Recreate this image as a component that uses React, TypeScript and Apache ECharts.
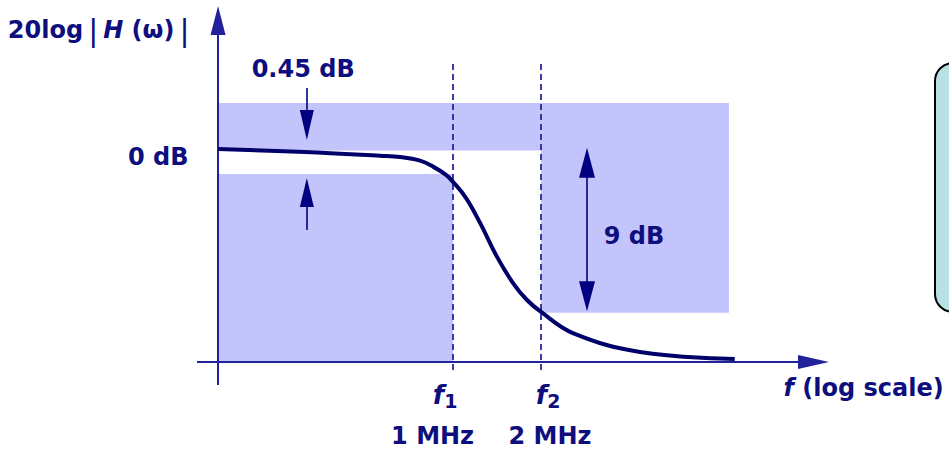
import React, { useEffect, useRef } from "react";
import * as echarts from "echarts";

// Frequency response curve (frequency in MHz on a log axis, gain in dB)
const freqMHz = [0.157, 0.312, 0.563, 0.659, 0.771, 0.854, 0.946, 1.0, 1.108, 1.237, 1.414, 1.604, 1.79, 2.0, 2.57, 4.36, 9.2];
const gainDb = [0.08, -0.09, -0.3, -0.37, -0.57, -0.9, -1.36, -1.75, -2.64, -4.02, -5.9, -7.35, -8.29, -8.95, -10.12, -11.17, -11.56];

// Specification mask (shaded forbidden regions)
const maskStartMHz = 0.157;
const maskEndMHz = 8.79;
const maskTopDb = 2.63;
const passCeilingDb = 0;
const passFloorDb = -1.31;
const stopCeilingDb = -9;
const axisDb = -11.72;

// Corner frequencies
const cornerMHz = [1, 2];
const cornerNames = ["f1", "f2"];
const cornerLabels = ["1 MHz", "2 MHz"];

// Axis extent
const xMinMHz = 0.133;
const xMaxMHz = 19.18;
const yMinDb = -13;
const yMaxDb = 8;

const NAVY = "#0e0e7e";
const CURVE = "#00006a";
const AXIS = "#22229a";
const MASK = "#c4c4fc";

export default function App() {
  const ref = useRef<HTMLDivElement>(null);
  useEffect(() => {
    if (!ref.current) return;
    const chart = echarts.init(ref.current, undefined, { renderer: "svg" });

    const big = {
      fontFamily: "DejaVu Sans",
      fontWeight: "bold",
      fontSize: 24,
      color: NAVY,
      textBorderWidth: 0,
      textShadowBlur: 0,
    };
    const rich = {
      n: { ...big },
      it: { ...big, fontStyle: "italic" },
      fi: { ...big, fontStyle: "italic", fontSize: 26 },
      sub: { ...big, fontSize: 19, padding: [12, 0, 0, 0] },
      bar: {
        fontFamily: "Liberation Sans",
        fontWeight: "normal",
        fontSize: 31,
        color: NAVY,
        textBorderWidth: 0,
        padding: [0, 6, 0, 6],
      },
    };

    const notes = [
      { x: 0.0625, y: 6.67, text: "{n|20log}{bar||}{it|H}{n| (ω)}{bar||}" },
      { x: 0.098, y: -0.37, text: "{n|0 dB}" },
      { x: 0.307, y: 4.51, text: "{n|0.45 dB}" },
      { x: 4.16, y: -4.74, text: "{n|9 dB}" },
      { x: 0.939, y: -13.55, text: `{fi|${cornerNames[0][0]}}{sub|${cornerNames[0].slice(1)}}` },
      { x: 2.114, y: -13.55, text: `{fi|${cornerNames[1][0]}}{sub|${cornerNames[1].slice(1)}}` },
      { x: 0.851, y: -15.82, text: `{n|${cornerLabels[0]}}` },
      { x: 2.146, y: -15.82, text: `{n|${cornerLabels[1]}}` },
      { x: 25.4, y: -13.16, text: "{it|f}{n| (log scale)}" },
    ];

    const option: any = {
      animation: false,
      textStyle: { fontFamily: "DejaVu Sans" },
      grid: { left: 197, right: 121, top: 6, bottom: 65 },
      xAxis: { type: "log", logBase: 2, min: xMinMHz, max: xMaxMHz, show: false },
      yAxis: { type: "value", min: yMinDb, max: yMaxDb, show: false },
      graphic: [
        {
          type: "rect",
          shape: { x: 935, y: 63, width: 60, height: 249, r: 18 },
          style: { fill: "#b9e1e3", stroke: "#000", lineWidth: 2 },
          z: 1,
        },
      ],
      series: [
        {
          type: "line",
          z: 1,
          clip: false,
          showSymbol: false,
          data: [[maskStartMHz, passCeilingDb]],
          markArea: {
            silent: true,
            itemStyle: { color: MASK, opacity: 1, borderWidth: 0 },
            data: [
              [{ coord: [maskStartMHz, maskTopDb] }, { coord: [cornerMHz[1], passCeilingDb] }],
              [{ coord: [cornerMHz[1], maskTopDb] }, { coord: [maskEndMHz, stopCeilingDb] }],
              [{ coord: [maskStartMHz, passFloorDb] }, { coord: [cornerMHz[0], axisDb] }],
            ],
          },
        },
        {
          type: "line",
          z: 2,
          clip: false,
          showSymbol: false,
          data: [[maskStartMHz, passCeilingDb]],
          markLine: {
            silent: true,
            symbol: ["none", "none"],
            label: { show: false },
            lineStyle: { color: "#28289c", width: 1.8, type: [6, 4] },
            data: cornerMHz.map((f) => [{ coord: [f, -12.17] }, { coord: [f, 4.79] }]),
          },
        },
        {
          type: "line",
          z: 3,
          clip: false,
          showSymbol: false,
          data: [[maskStartMHz, passCeilingDb]],
          markLine: {
            silent: true,
            symbol: ["none", "triangle"],
            label: { show: false },
            lineStyle: { color: AXIS, width: 2, type: "solid" },
            data: [
              [
                { coord: [maskStartMHz, yMinDb], symbol: "none" },
                { coord: [maskStartMHz, 7.2], symbol: "triangle", symbolSize: [15, 29] },
              ],
              [
                { coord: [xMinMHz, axisDb], symbol: "none" },
                { coord: [17.11, axisDb], symbol: "triangle", symbolSize: [14, 31] },
              ],
            ],
          },
        },
        {
          type: "line",
          z: 4,
          clip: false,
          showSymbol: false,
          data: [[maskStartMHz, passCeilingDb]],
          markLine: {
            silent: true,
            label: { show: false },
            lineStyle: { color: "#000080", width: 1.6, type: "solid" },
            data: [
              [
                { coord: [0.316, 3.46], symbol: "none" },
                { coord: [0.316, 1.4], symbol: "triangle", symbolSize: [14, 30] },
              ],
              [
                { coord: [0.316, -4.41], symbol: "none" },
                { coord: [0.316, -2.33], symbol: "triangle", symbolSize: [14, 29] },
              ],
              [
                { coord: [2.873, -8.08], symbol: "triangle", symbolSize: [16, 30] },
                { coord: [2.873, -0.68], symbol: "triangle", symbolSize: [16, 30] },
              ],
            ],
          },
        },
        {
          type: "line",
          z: 5,
          clip: false,
          smooth: 0.4,
          showSymbol: false,
          symbol: "none",
          lineStyle: { color: CURVE, width: 4 },
          data: freqMHz.map((f, i) => [f, gainDb[i]]),
        },
        {
          type: "scatter",
          z: 6,
          clip: false,
          symbolSize: 0,
          silent: true,
          itemStyle: { opacity: 1 },
          data: notes.map((n) => ({
            value: [n.x, n.y],
            label: {
              show: true,
              position: [0, 0],
              align: "center",
              verticalAlign: "middle",
              color: NAVY,
              opacity: 1,
              textBorderWidth: 0,
              formatter: n.text,
              rich,
            },
          })),
        },
      ],
    };
    chart.setOption(option);
    return () => chart.dispose();
  }, []);
  return (
    <div
      ref={ref}
      style={{ position: "fixed", left: 0, top: 0, width: 949, height: 450, background: "#fff" }}
    />
  );
}
